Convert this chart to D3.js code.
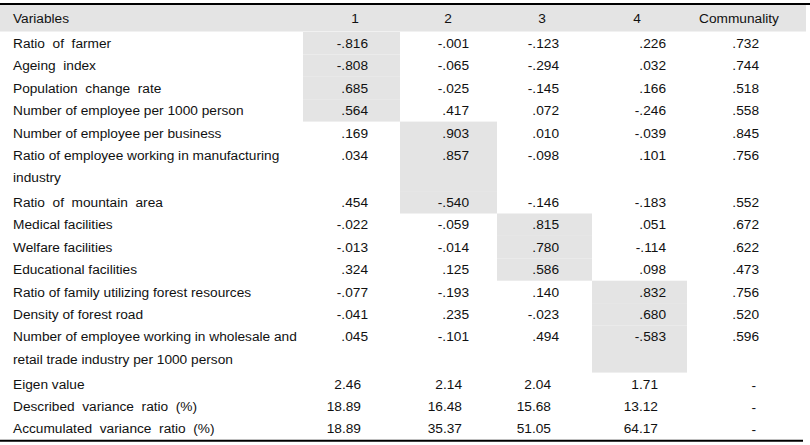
<!DOCTYPE html>
<html>
<head>
<meta charset="utf-8">
<script src="https://cdn.jsdelivr.net/npm/d3@7"></script>
<style>
  html, body { margin: 0; padding: 0; background: #fff; }
  svg text { font-family: "Liberation Sans", Arial, sans-serif; font-size: 13.7px; fill: #111; white-space: pre; }
</style>
</head>
<body>
<svg id="chart" width="810" height="445"></svg>
<script>
// ---- data ----
const headers = ["Variables", "1", "2", "3", "4", "Communality"];
const variables = [
  ["Ratio  of  farmer"],
  ["Ageing  index"],
  ["Population  change  rate"],
  ["Number of employee per 1000 person"],
  ["Number of employee per business"],
  ["Ratio of employee working in manufacturing", "industry"],
  ["Ratio  of  mountain  area"],
  ["Medical facilities"],
  ["Welfare facilities"],
  ["Educational facilities"],
  ["Ratio of family utilizing forest resources"],
  ["Density of forest road"],
  ["Number of employee working in wholesale and", "retail trade industry per 1000 person"]
];
const factor1 = [-0.816, -0.808, 0.685, 0.564, 0.169, 0.034, 0.454, -0.022, -0.013, 0.324, -0.077, -0.041, 0.045];
const factor2 = [-0.001, -0.065, -0.025, 0.417, 0.903, 0.857, -0.540, -0.059, -0.014, 0.125, -0.193, 0.235, -0.101];
const factor3 = [-0.123, -0.294, -0.145, 0.072, 0.010, -0.098, -0.146, 0.815, 0.780, 0.586, 0.140, -0.023, 0.494];
const factor4 = [0.226, 0.032, 0.166, -0.246, -0.039, 0.101, -0.183, 0.051, -0.114, 0.098, 0.832, 0.680, -0.583];
const communality = [0.732, 0.744, 0.518, 0.558, 0.845, 0.756, 0.552, 0.672, 0.622, 0.473, 0.756, 0.520, 0.596];
const summaryLabels = ["Eigen value", "Described  variance  ratio  (%)", "Accumulated  variance  ratio  (%)"];
const eigenValues = [2.46, 2.14, 2.04, 1.71];
const describedVariance = [18.89, 16.48, 15.68, 13.12];
const accumulatedVariance = [18.89, 35.37, 51.05, 64.17];

// ---- layout ----
const svg = d3.select("#chart");
const W = 810;
const cols = ["1", "2", "3", "4", "Communality"];
const colCenter = d3.scaleOrdinal().domain(cols).range([355, 448, 542, 637, 739]);
const colRight = d3.scaleOrdinal().domain(cols).range([368, 469, 559, 666, 759]);
const sumRight = d3.scaleOrdinal().domain(cols).range([361, 462, 551, 658, 759]);
const colLeft = d3.scaleOrdinal().domain(cols).range([303, 400, 497, 592, 687]);
const colRightEdge = d3.scaleOrdinal().domain(cols).range([400, 497, 592, 687, 787]);
const labelX = 13;
const lineH = 22.4, extraLine = 2.3;

// row units along y
const rowUnits = variables.map(v => v.length === 1 ? 1 : 2 + extraLine / lineH);
const starts = [];
let acc = 0;
rowUnits.forEach(u => { starts.push(acc); acc += u; });
const bodyUnits = acc;
const totalUnits = bodyUnits + summaryLabels.length;
const y = d3.scaleLinear().domain([0, totalUnits]).range([32, 32 + totalUnits * lineH]);

const factors = [factor1, factor2, factor3, factor4];
const rows = variables.map((lines, i) => {
  const vals = factors.map(f => f[i]);
  const maxIdx = d3.maxIndex(vals, v => Math.abs(v));
  return { lines, vals, comm: communality[i], top: starts[i], units: rowUnits[i], hi: maxIdx };
});

const fmt = v => {
  const s = Math.abs(v).toFixed(3).replace(/^0/, "");
  return (v < 0 ? "-" : "") + s;
};

// header background
svg.append("rect").attr("x", 0).attr("y", 5).attr("width", 806).attr("height", 26.5).attr("fill", "#e4e4e4");
svg.append("line").attr("x1", 0).attr("x2", W).attr("y1", 4).attr("y2", 4).attr("stroke", "#000").attr("stroke-width", 2);

// highlighted cells
svg.append("g").selectAll("rect").data(rows).join("rect")
  .attr("x", d => colLeft(cols[d.hi]))
  .attr("width", d => colRightEdge(cols[d.hi]) - colLeft(cols[d.hi]))
  .attr("y", d => y(d.top))
  .attr("height", d => y(d.top + d.units) - y(d.top))
  .attr("fill", "#e4e4e4");

// header text
const hdr = svg.append("g");
hdr.append("text").attr("x", labelX).attr("y", 18).attr("dy", "0.35em").text(headers[0]);
hdr.selectAll("text.h").data(headers.slice(1)).join("text").attr("class", "h")
  .attr("x", d => colCenter(d)).attr("y", 18).attr("dy", "0.35em").attr("text-anchor", "middle").text(d => d);

// body rows
const rg = svg.append("g").selectAll("g").data(rows).join("g");
rg.each(function(d) {
  const g = d3.select(this);
  const cy = y(d.top) + lineH / 2;
  d.lines.forEach((ln, k) => {
    g.append("text").attr("x", labelX).attr("y", cy + k * lineH).attr("dy", "0.35em").text(ln);
  });
  d.vals.forEach((v, k) => {
    g.append("text").attr("x", colRight(cols[k])).attr("y", cy).attr("dy", "0.35em").attr("text-anchor", "end").text(fmt(v));
  });
  g.append("text").attr("x", colRight("Communality")).attr("y", cy).attr("dy", "0.35em").attr("text-anchor", "end").text(fmt(d.comm));
});

// summary rows
const summaryVals = [eigenValues, describedVariance, accumulatedVariance];
summaryLabels.forEach((lab, i) => {
  const cy = y(bodyUnits + i) + lineH / 2;
  svg.append("text").attr("x", labelX).attr("y", cy).attr("dy", "0.35em").text(lab);
  summaryVals[i].forEach((v, k) => {
    svg.append("text").attr("x", sumRight(cols[k])).attr("y", cy).attr("dy", "0.35em").attr("text-anchor", "end").text(v.toFixed(2));
  });
  svg.append("text").attr("x", 756).attr("y", cy + 1).attr("dy", "0.35em").attr("text-anchor", "end").text("-");
});

// bottom rule
svg.append("line").attr("x1", 0).attr("x2", 803).attr("y1", y(totalUnits) + 1).attr("y2", y(totalUnits) + 1).attr("stroke", "#000").attr("stroke-width", 2);
</script>
</body>
</html>
